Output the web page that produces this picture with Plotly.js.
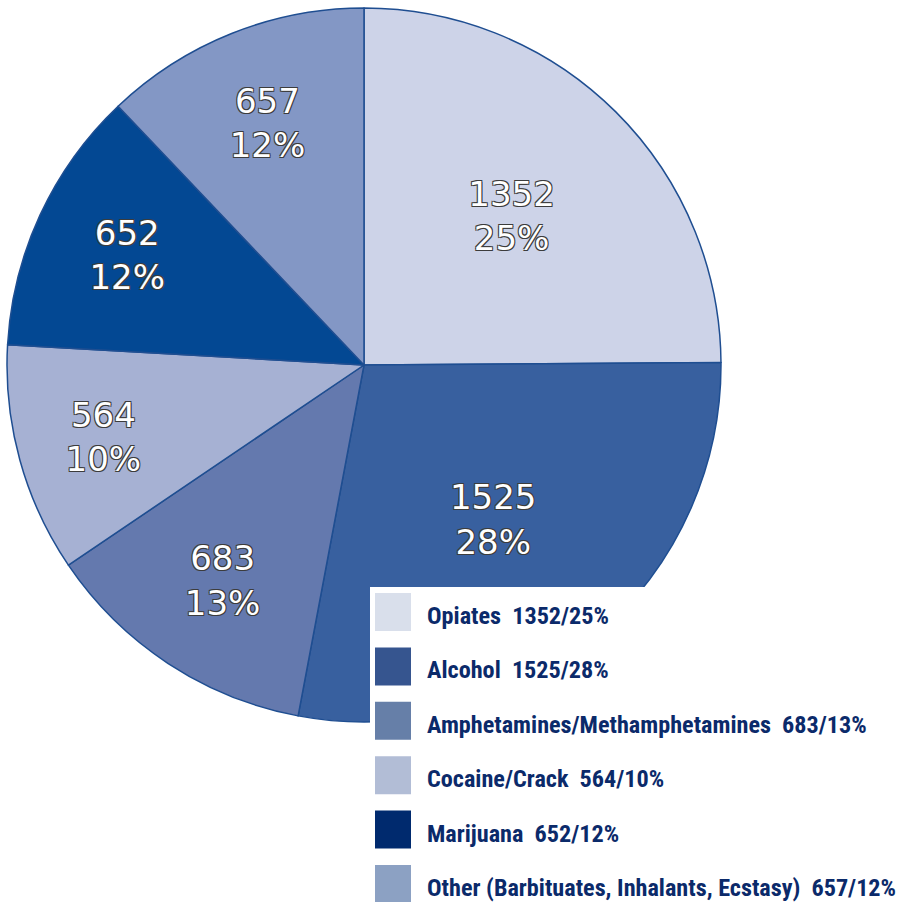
<!DOCTYPE html>
<html>
<head>
<meta charset="utf-8">
<script src="https://cdn.plot.ly/plotly-3.0.1.min.js"></script>
<style>
  html, body { margin: 0; padding: 0; background: #fff; }
  #chart { width: 909px; height: 902px; }
</style>
</head>
<body>
<div id="chart"></div>
<script>
const labels = ['Opiates', 'Alcohol', 'Amphetamines/Methamphetamines', 'Cocaine/Crack', 'Marijuana', 'Other (Barbituates, Inhalants, Ecstasy)'];
const values = [1352, 1525, 683, 564, 652, 657];
const sliceColors = ['#cdd3e8', '#38609f', '#6479ae', '#a6b1d3', '#034893', '#8397c5'];
const swatchColors = ['#d9dfeb', '#36558f', '#667fa8', '#b2bdd6', '#002a6e', '#8ca1c3'];

const W = 909, H = 902;
const px = x => x / W;
const py = y => 1 - y / H;

const total = values.reduce((a, b) => a + b, 0);

const trace = {
  type: 'pie',
  labels: labels,
  values: values,
  sort: false,
  direction: 'clockwise',
  rotation: 0,
  marker: { colors: sliceColors, line: { color: '#1f4e91', width: 1.5 } },
  texttemplate: '%{value}<br>%{percent:.0%}',
  textposition: 'inside',
  insidetextorientation: 'horizontal',
  textfont: {
    family: 'DejaVu Sans',
    size: 34,
    color: '#ffffff',
    shadow: '1px 1px 0 #3c3c3c, -1px -1px 0 #3c3c3c, 1px -1px 0 #3c3c3c, -1px 1px 0 #3c3c3c'
  },
  hoverinfo: 'label+value+percent',
  showlegend: false,
  domain: { x: [px(7), px(721)], y: [py(722), py(8)] }
};

// legend drawn by hand to get the large square swatches
const shapes = [{
  type: 'rect', xref: 'paper', yref: 'paper', layer: 'above',
  x0: px(370), x1: 1, y0: 0, y1: py(587),
  fillcolor: '#ffffff', line: { width: 0 }
}];
const annotations = [];
labels.forEach((name, i) => {
  const top = 593 + i * 54.4;
  shapes.push({
    type: 'rect', xref: 'paper', yref: 'paper', layer: 'above',
    x0: px(375), x1: px(411), y0: py(top + 38), y1: py(top),
    fillcolor: swatchColors[i], line: { width: 0 }
  });
  const pct = Math.round(values[i] / total * 100);
  annotations.push({
    xref: 'paper', yref: 'paper', x: px(426), y: py(top + 23),
    xanchor: 'left', yanchor: 'middle', showarrow: false, borderpad: 0,
    text: '<b>' + name + '\u00a0\u00a0' + values[i] + '/' + pct + '%</b>',
    font: { family: 'Roboto Condensed', size: 24.2, color: '#0b2a6a' }
  });
});

const layout = {
  width: W,
  height: H,
  margin: { l: 0, r: 0, t: 0, b: 0 },
  paper_bgcolor: '#ffffff',
  showlegend: false,
  shapes: shapes,
  annotations: annotations
};

Plotly.newPlot('chart', [trace], layout, { displayModeBar: false });
</script>
</body>
</html>
